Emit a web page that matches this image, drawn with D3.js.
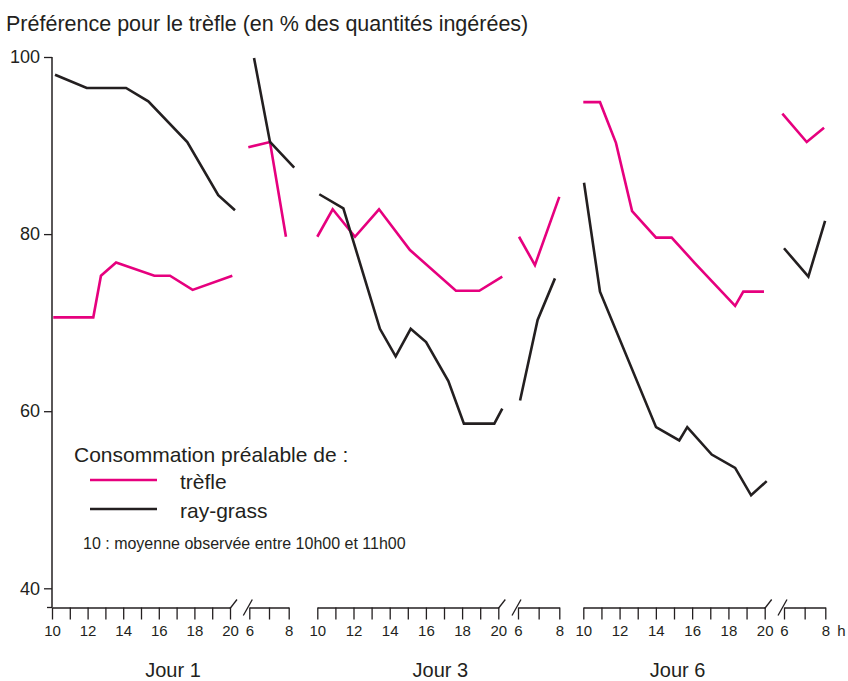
<!DOCTYPE html>
<html>
<head>
<meta charset="utf-8">
<script src="https://cdn.jsdelivr.net/npm/d3@7"></script>
<style>
  body { margin: 0; background: #fff; }
  text { font-family: "Liberation Sans", Arial, sans-serif; fill: #231f20; }
</style>
</head>
<body>
<div id="chart"></div>
<script>
var width = 848
var height = 681

// valeurs : [heure, % trèfle]
var jour1Trefle = [[10.07,70.6],[12.32,70.6],[12.75,75.3],[13.6,76.8],[15.75,75.3],[16.63,75.3],[17.9,73.7],[20.13,75.3]]
var jour1Ray = [[10.17,98.0],[11.95,96.5],[14.16,96.5],[15.41,95.0],[17.6,90.4],[19.34,84.4],[20.28,82.7]]
var nuit1Trefle = [[5.95,89.8],[7.05,90.4],[7.86,79.7]]
var nuit1Ray = [[6.24,99.9],[7.05,90.4],[8.28,87.5]]

var jour3Trefle = [[10.0,79.7],[10.85,82.8],[12.08,79.7],[13.41,82.8],[15.12,78.2],[17.66,73.6],[18.95,73.6],[20.22,75.2]]
var jour3Ray = [[10.11,84.5],[11.44,82.9],[13.46,69.3],[14.33,66.2],[15.16,69.3],[16.01,67.8],[17.24,63.4],[18.1,58.6],[19.78,58.6],[20.22,60.3]]
var nuit3Trefle = [[6.05,79.7],[6.82,76.5],[8.0,84.2]]
var nuit3Ray = [[6.1,61.2],[6.95,70.3],[7.79,75.0]]

var jour6Trefle = [[10.0,94.9],[10.92,94.9],[11.8,90.3],[12.69,82.6],[14.01,79.6],[14.87,79.6],[16.16,76.7],[18.37,71.9],[18.82,73.5],[19.96,73.5]]
var jour6Ray = [[10.04,85.8],[10.92,73.5],[14.01,58.2],[15.29,56.7],[15.73,58.2],[17.08,55.1],[18.37,53.6],[19.25,50.5],[20.11,52.1]]
var nuit6Trefle = [[5.92,93.6],[7.1,90.4],[7.94,92.0]]
var nuit6Ray = [[6.0,78.4],[7.18,75.2],[7.99,81.5]]

var jours = ["Jour 1", "Jour 3", "Jour 6"]
var jourLabelHeure = [16.8, 16.8, 15.2]
var heuresJour = d3.range(10, 21)
var heuresNuit = [6, 7, 8]
var yTicks = [40, 60, 80, 100]

var rose = "#e6007e"
var noir = "#231f20"

var svg = d3.select("#chart")
  .append("svg")
    .attr("width", width)
    .attr("height", height)

var y = d3.scaleLinear()
  .domain([40, 100])
  .range([588.3, 57])
var base = 607.5

// une échelle par tronçon d'axe (jour 10h-20h, puis nuit 6h-8h)
var xJour = [
  d3.scaleLinear().domain([10, 20]).range([52, 230]),
  d3.scaleLinear().domain([10, 20]).range([317.3, 498.3]),
  d3.scaleLinear().domain([10, 20]).range([583.3, 764.7])
]
var xNuit = [
  d3.scaleLinear().domain([6, 8]).range([249.3, 288.7]),
  d3.scaleLinear().domain([6, 8]).range([518, 559.3]),
  d3.scaleLinear().domain([6, 8]).range([784, 825.3])
]

var series = [
  { x: xJour[0], data: jour1Trefle, color: rose }, { x: xJour[0], data: jour1Ray, color: noir },
  { x: xNuit[0], data: nuit1Trefle, color: rose }, { x: xNuit[0], data: nuit1Ray, color: noir },
  { x: xJour[1], data: jour3Trefle, color: rose }, { x: xJour[1], data: jour3Ray, color: noir },
  { x: xNuit[1], data: nuit3Trefle, color: rose }, { x: xNuit[1], data: nuit3Ray, color: noir },
  { x: xJour[2], data: jour6Trefle, color: rose }, { x: xJour[2], data: jour6Ray, color: noir },
  { x: xNuit[2], data: nuit6Trefle, color: rose }, { x: xNuit[2], data: nuit6Ray, color: noir }
]

// titre
svg.append("text")
  .attr("x", 6)
  .attr("y", 31)
  .style("font-size", "21.5px")
  .text("Préférence pour le trèfle (en % des quantités ingérées)")

// axe vertical
var yAxis = svg.append("g")
  .attr("transform", "translate(52,0)")
  .call(d3.axisLeft(y).tickValues(yTicks).tickSize(8).tickPadding(4))
yAxis.select(".domain").remove()
yAxis.selectAll("line").attr("stroke", noir).attr("stroke-width", 1.3)
yAxis.selectAll("text").style("font-size", "18px").style("fill", noir)

svg.append("line")
  .attr("x1", 52).attr("x2", 52)
  .attr("y1", y(100)).attr("y2", base)
  .attr("stroke", noir).attr("stroke-width", 1.5)

svg.append("line")
  .attr("x1", 47).attr("x2", 52)
  .attr("y1", base).attr("y2", base)
  .attr("stroke", noir).attr("stroke-width", 1.3)

// axes horizontaux
function drawAxis(scale, ticks) {
  var g = svg.append("g")
    .attr("transform", "translate(0," + base + ")")
    .call(d3.axisBottom(scale)
      .tickValues(ticks)
      .tickSize(12)
      .tickSizeOuter(0)
      .tickPadding(6)
      .tickFormat(function(d) { return d % 2 === 0 ? d : "" }))
  g.select(".domain").attr("stroke", noir).attr("stroke-width", 1.3)
  g.selectAll("line").attr("stroke", noir).attr("stroke-width", 1.3)
  g.selectAll("text").style("font-size", "15px").style("fill", noir)
}

for (var i = 0; i < 3; i++) {
  drawAxis(xJour[i], heuresJour)
  drawAxis(xNuit[i], heuresNuit)

  var fin = xJour[i].range()[1]
  var debut = xNuit[i].range()[0]
  svg.append("line")
    .attr("x1", fin).attr("y1", base + 1)
    .attr("x2", fin + 7).attr("y2", base - 8)
    .attr("stroke", noir).attr("stroke-width", 1.3)
  svg.append("line")
    .attr("x1", debut - 6).attr("y1", base + 8)
    .attr("x2", debut + 3).attr("y2", base - 8)
    .attr("stroke", noir).attr("stroke-width", 1.3)

  svg.append("text")
    .attr("x", xJour[i](jourLabelHeure[i]))
    .attr("y", 677)
    .attr("text-anchor", "middle")
    .style("font-size", "20px")
    .text(jours[i])
}

svg.append("text")
  .attr("x", xNuit[2](8) + 12)
  .attr("y", base + 18)
  .attr("dy", "0.71em")
  .style("font-size", "15px")
  .text("h")

// courbes
var line = d3.line()

svg.append("g")
  .selectAll("path")
  .data(series)
  .enter()
  .append("path")
    .attr("d", function(s) {
      return line(s.data.map(function(p) { return [s.x(p[0]), y(p[1])] }))
    })
    .attr("fill", "none")
    .attr("stroke", function(s) { return s.color })
    .attr("stroke-width", 2.6)
    .attr("stroke-linejoin", "miter")

// légende
var legend = svg.append("g")

legend.append("text")
  .attr("x", 74)
  .attr("y", 462)
  .style("font-size", "21px")
  .text("Consommation préalable de :")

var legendItems = [
  { label: "trèfle", color: rose, y: 480 },
  { label: "ray-grass", color: noir, y: 509 }
]

legend.selectAll(".item")
  .data(legendItems)
  .enter()
  .append("line")
    .attr("x1", 90).attr("x2", 157)
    .attr("y1", function(d) { return d.y })
    .attr("y2", function(d) { return d.y })
    .attr("stroke", function(d) { return d.color })
    .attr("stroke-width", 2.6)

legend.selectAll(".lab")
  .data(legendItems)
  .enter()
  .append("text")
    .attr("x", 180)
    .attr("y", function(d) { return d.y + 9 })
    .style("font-size", "21px")
    .text(function(d) { return d.label })

legend.append("text")
  .attr("x", 83)
  .attr("y", 549)
  .style("font-size", "16px")
  .text("10 : moyenne observée entre 10h00 et 11h00")
</script>
</body>
</html>
